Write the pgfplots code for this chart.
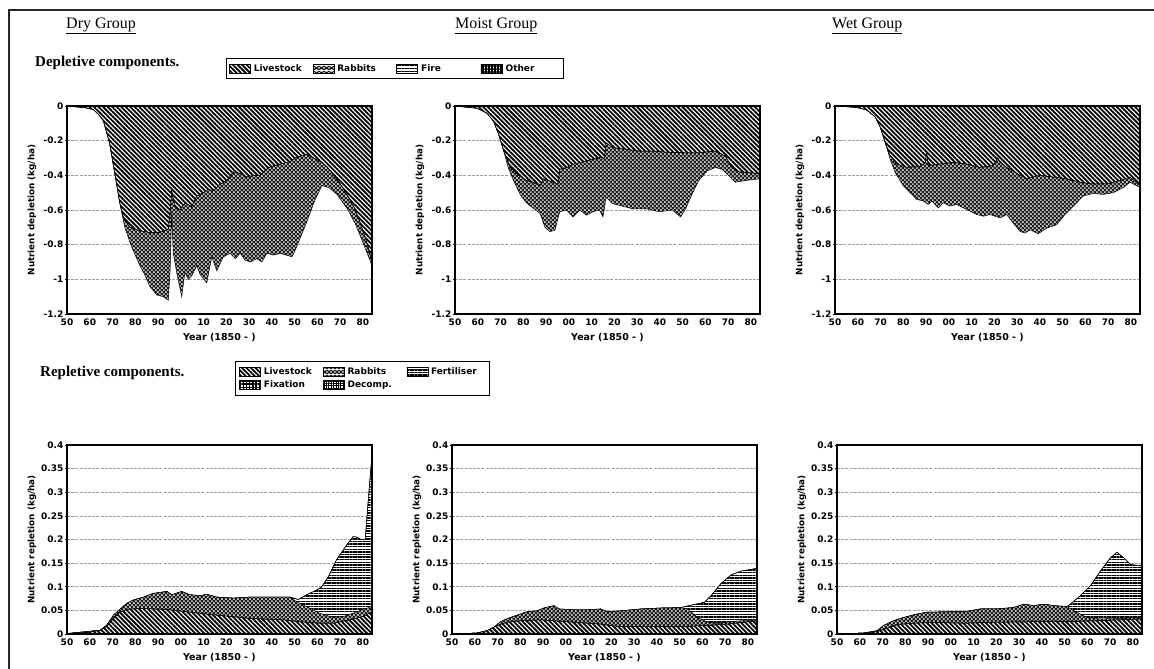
\documentclass[border=0pt]{standalone}
\usepackage{pgfplots}
\pgfplotsset{compat=1.18}
\usepackage{fontspec}
\setmainfont{DejaVu Sans}
\newfontfamily\serif{Liberation Serif}
\usetikzlibrary{patterns,patterns.meta}

\pgfdeclarepatterninherentlycolored{rabbitdots}{\pgfpointorigin}{\pgfpoint{4.4pt}{4.4pt}}{\pgfpoint{4.4pt}{4.4pt}}{%
  \pgfsetfillcolor{black!90}%
  \pgfpathrectangle{\pgfpointorigin}{\pgfpoint{4.4pt}{4.4pt}}%
  \pgfusepath{fill}%
  \pgfsetfillcolor{white}%
  \pgfpathcircle{\pgfpoint{2.2pt}{2.2pt}}{1.05pt}%
  \pgfpathcircle{\pgfpoint{0pt}{0pt}}{1.05pt}%
  \pgfpathcircle{\pgfpoint{4.4pt}{0pt}}{1.05pt}%
  \pgfpathcircle{\pgfpoint{0pt}{4.4pt}}{1.05pt}%
  \pgfpathcircle{\pgfpoint{4.4pt}{4.4pt}}{1.05pt}%
  \pgfusepath{fill}%
}

\pgfplotsset{
  zzswatch/.style={legend image code/.code={\draw[##1] (0pt,-4.5pt) rectangle (21pt,4.5pt);}},
  zzlvs/.style={zzswatch, draw=black, line width=0.5pt, preaction={fill=white}, pattern={Lines[angle=-45,distance=3.2pt,line width=1.8pt]}},
  zzrab/.style={zzswatch, draw=black, line width=0.5pt, pattern=rabbitdots},
  zzfire/.style={zzswatch, draw=black, line width=0.5pt, preaction={fill=white}, pattern={Lines[angle=0,distance=2.6pt,line width=0.8pt]}},
  zzother/.style={zzswatch, draw=black, line width=0.5pt, preaction={fill=white}, pattern={Hatch[angle=0,distance=3pt,line width=1.5pt]}},
  zzfert/.style={zzswatch, draw=black, line width=0.5pt, preaction={fill=white}, pattern={Lines[angle=0,distance=2.6pt,line width=1.4pt]}},
  zzfix/.style={zzswatch, draw=black, line width=0.5pt, preaction={fill=white}, pattern={Hatch[angle=0,distance=3.2pt,line width=1.4pt]}},
  zzdec/.style={zzswatch, draw=black, line width=0.5pt, preaction={fill=white}, pattern={Hatch[angle=0,distance=2.4pt,line width=0.7pt]}},
  zzcommon/.style={
    scale only axis, width=305pt, anchor=south west,
    xmin=1850, xmax=1984,
    xtick={1850,1860,1870,1880,1890,1900,1910,1920,1930,1940,1950,1960,1970,1980},
    xticklabels={50,60,70,80,90,00,10,20,30,40,50,60,70,80},
    ymajorgrids, grid style={gray!75, dash pattern=on 3pt off 1.2pt, line width=0.6pt},
    tick pos=left, tick align=outside, xtick style={draw=none}, ytick style={black, line width=0.6pt},
    major tick length=2pt,
    tick label style={font=\bfseries\fontsize{9}{10}\selectfont, inner sep=1.5pt},
    xticklabel style={yshift=-1pt},
    axis line style={line width=1.1pt},
    after end axis/.code={\draw[line width=1.1pt] (rel axis cs:0,0) rectangle (rel axis cs:1,1);},
    xlabel={Year (1850 - )},
    every axis x label/.style={at={(axis description cs:0.5,0)}, yshift=-24pt, anchor=center, font=\bfseries\fontsize{9.5}{11}\selectfont},
    every axis y label/.style={at={(axis description cs:0,0.5)}, xshift=-35pt, rotate=90, anchor=center, font=\bfseries\fontsize{8.8}{11}\selectfont},
  },
  zztop/.style={zzcommon, height=208pt, ymin=-1.2, ymax=0,
    ytick={-1.2,-1,-0.8,-0.6,-0.4,-0.2,0},
    yticklabels={-1.2,-1,-0.8,-0.6,-0.4,-0.2,0},
    ylabel={Nutrient depletion (kg/ha)}},
  zzbot/.style={zzcommon, height=189pt, ymin=0, ymax=0.4,
    ytick={0,0.05,0.1,0.15,0.2,0.25,0.3,0.35,0.4},
    yticklabels={0,0.05,0.1,0.15,0.2,0.25,0.3,0.35,0.4},
    ylabel={Nutrient repletion (kg/ha)}},
  zzleg/.style={legend style={draw=black, line width=0.8pt, font=\bfseries\fontsize{9}{11}\selectfont,
    inner xsep=3pt, inner ysep=5pt, row sep=3pt,
    nodes={text width=52pt, inner xsep=3pt, inner ysep=1pt},
    /tikz/every even column/.append style={column sep=4pt}}},
}

\begin{document}
\begin{tikzpicture}
\path[use as bounding box] (0pt,0pt) rectangle (1154pt,669pt);
\draw[line width=2pt, black!85] (9pt,0pt) -- (9pt,659pt) -- (1154pt,659pt);

\node[font=\serif\fontsize{16}{18}\selectfont, anchor=west, inner sep=0pt] at (66pt,643pt) {\underline{Dry Group}};
\node[font=\serif\fontsize{16}{18}\selectfont, anchor=west, inner sep=0pt] at (455pt,643pt) {\underline{Moist Group}};
\node[font=\serif\fontsize{16}{18}\selectfont, anchor=west, inner sep=0pt] at (832pt,643pt) {\underline{Wet Group}};
\node[font=\serif\bfseries\fontsize{15}{17}\selectfont, anchor=west, inner sep=0pt] at (35pt,606pt) {Depletive components.};
\node[font=\serif\bfseries\fontsize{15}{17}\selectfont, anchor=west, inner sep=0pt] at (40pt,296pt) {Repletive components.};

% ---------------- Dry depletion
\begin{axis}[zztop, at={(67pt,355pt)}, zzleg,
  legend columns=4,
  legend style={at={(rel axis cs:0.521,1.231)}, anchor=north west}]
\addplot[zzrab, forget plot] coordinates {
(1850,0) (1858,-0.01) (1861.5,-0.02) (1864,-0.05) (1866,-0.086) (1868.8,-0.22) (1871,-0.39) (1873.2,-0.56) (1875.4,-0.70) (1878.3,-0.81) (1882,-0.92) (1884,-0.97) (1886.4,-1.04) (1889.4,-1.09) (1892.3,-1.10) (1894.5,-1.12) (1895.3,-0.95) (1896,-0.62) (1896.7,-0.85) (1898.2,-0.96) (1900.4,-1.10) (1901.8,-0.96) (1903.3,-1.00) (1904.8,-0.98) (1907,-0.92) (1908.4,-0.97) (1911.4,-1.02) (1913.6,-0.87) (1915.8,-0.95) (1918.7,-0.87) (1921.7,-0.85) (1923.9,-0.88) (1926.1,-0.85) (1928.3,-0.89) (1930.5,-0.90) (1933.4,-0.88) (1935.6,-0.90) (1937.8,-0.85) (1940.7,-0.86) (1943.7,-0.85) (1948.8,-0.87) (1950,-0.84) (1955,-0.68) (1959,-0.54) (1962,-0.46) (1965,-0.47) (1968.6,-0.51) (1973,-0.59) (1976.7,-0.68) (1980.4,-0.80) (1984,-0.92)
} \closedcycle;
\addplot[zzlvs, forget plot] coordinates {
(1850,0) (1858,-0.01) (1861.5,-0.02) (1864,-0.05) (1866,-0.086) (1868.8,-0.22) (1871,-0.39) (1873.2,-0.56) (1874.7,-0.64) (1877.6,-0.70) (1882,-0.72) (1886.4,-0.73) (1890.8,-0.73) (1894.5,-0.71) (1895.3,-0.62) (1896,-0.49) (1897.4,-0.58) (1899.6,-0.60) (1901.8,-0.56) (1904.8,-0.58) (1907,-0.52) (1909.9,-0.50) (1912.1,-0.48) (1914.3,-0.49) (1916.5,-0.46) (1918.7,-0.44) (1920.9,-0.42) (1923.1,-0.38) (1926.1,-0.39) (1929,-0.41) (1931.9,-0.40) (1934.9,-0.40) (1937.1,-0.37) (1939.3,-0.35) (1942.2,-0.34) (1945.2,-0.33) (1948.1,-0.32) (1950.3,-0.30) (1952.5,-0.29) (1955.4,-0.28) (1958.4,-0.30) (1961.3,-0.32) (1964.2,-0.35) (1967.2,-0.40) (1970.1,-0.45) (1973,-0.51) (1976,-0.58) (1979,-0.68) (1982,-0.80) (1984,-0.90)
} \closedcycle;
\addlegendimage{zzlvs}\addlegendentry{Livestock}
\addlegendimage{zzrab}\addlegendentry{Rabbits}
\addlegendimage{zzfire}\addlegendentry{Fire}
\addlegendimage{zzother}\addlegendentry{Other}
\end{axis}

% ---------------- Moist depletion
\begin{axis}[zztop, at={(455pt,355pt)}]
\addplot[zzrab] coordinates {
(1850,0) (1859.7,-0.013) (1864.1,-0.042) (1867,-0.089) (1869.2,-0.165) (1871.4,-0.26) (1873.5,-0.36) (1875.7,-0.43) (1878.6,-0.51) (1881.5,-0.56) (1884.4,-0.59) (1887.4,-0.62) (1889.5,-0.70) (1891.7,-0.725) (1893.9,-0.716) (1895,-0.66) (1896,-0.61) (1899,-0.60) (1901.9,-0.64) (1904.8,-0.60) (1907.7,-0.63) (1910.6,-0.61) (1913.5,-0.60) (1915,-0.64) (1916.4,-0.526) (1919.3,-0.564) (1922.2,-0.573) (1928,-0.593) (1933.9,-0.593) (1939.7,-0.61) (1945.5,-0.60) (1949.1,-0.64) (1951.3,-0.593) (1954.2,-0.507) (1957.1,-0.43) (1960.8,-0.374) (1964.4,-0.355) (1967.3,-0.365) (1970.2,-0.40) (1973.1,-0.44) (1977.5,-0.43) (1984,-0.42)
} \closedcycle;
\addplot[zzlvs] coordinates {
(1850,0) (1859.7,-0.013) (1864.1,-0.042) (1867,-0.089) (1869.2,-0.165) (1871.4,-0.26) (1874.3,-0.355) (1877.9,-0.40) (1881.5,-0.43) (1884.4,-0.44) (1887.4,-0.46) (1888.8,-0.42) (1893.2,-0.44) (1895.3,-0.45) (1896,-0.365) (1899,-0.355) (1901.9,-0.336) (1904.8,-0.327) (1907.7,-0.317) (1910.6,-0.308) (1913.5,-0.298) (1915.7,-0.30) (1916.4,-0.213) (1919.3,-0.241) (1925.1,-0.25) (1931,-0.26) (1936.8,-0.26) (1942.6,-0.266) (1949.9,-0.27) (1957.1,-0.27) (1964.4,-0.26) (1968.8,-0.29) (1971.7,-0.355) (1974.6,-0.38) (1984,-0.39)
} \closedcycle;
\end{axis}

% ---------------- Wet depletion
\begin{axis}[zztop, at={(835pt,355pt)}]
\addplot[zzrab] coordinates {
(1850,0) (1859.5,-0.008) (1863.9,-0.023) (1867.6,-0.062) (1869.8,-0.12) (1872,-0.208) (1874.2,-0.305) (1876.4,-0.383) (1880,-0.46) (1883,-0.50) (1885.9,-0.539) (1888.8,-0.548) (1891,-0.568) (1892.5,-0.548) (1895.4,-0.588) (1897.6,-0.558) (1900.5,-0.578) (1903.5,-0.568) (1906.4,-0.588) (1909.3,-0.607) (1912.3,-0.626) (1915.2,-0.636) (1918.1,-0.626) (1922.5,-0.646) (1925.4,-0.626) (1928.3,-0.675) (1931.3,-0.724) (1933.5,-0.733) (1935.7,-0.714) (1939.3,-0.737) (1943,-0.704) (1947.4,-0.685) (1951,-0.626) (1954.7,-0.578) (1959.1,-0.519) (1963.5,-0.504) (1967.9,-0.51) (1972.3,-0.50) (1976.7,-0.47) (1979.6,-0.44) (1984,-0.47)
} \closedcycle;
\addplot[zzlvs] coordinates {
(1850,0) (1859.5,-0.008) (1863.9,-0.023) (1867.6,-0.062) (1869.8,-0.12) (1872,-0.208) (1874.2,-0.286) (1877.1,-0.335) (1881.5,-0.354) (1887.3,-0.348) (1889.5,-0.33) (1890.3,-0.27) (1891,-0.345) (1896.1,-0.335) (1902,-0.325) (1907.8,-0.335) (1913.7,-0.354) (1919.5,-0.344) (1921.5,-0.30) (1922.5,-0.325) (1925.4,-0.354) (1931.3,-0.40) (1934.2,-0.42) (1940,-0.40) (1945.9,-0.41) (1951.8,-0.42) (1957.6,-0.44) (1963.5,-0.45) (1969.3,-0.45) (1975.2,-0.43) (1979.6,-0.41) (1984,-0.46)
} \closedcycle;
\end{axis}

% ---------------- Dry repletion
\begin{axis}[zzbot, at={(67pt,35pt)}, zzleg,
  legend columns=3,
  legend style={at={(rel axis cs:0.551,1.444)}, anchor=north west}]
\addplot[zzfert, forget plot] coordinates {
(1850,0.001) (1864.6,0.008) (1867.5,0.019) (1870.5,0.04) (1873.4,0.053) (1876.3,0.065) (1879.2,0.072) (1883.6,0.078) (1888,0.086) (1893.9,0.090) (1896,0.083) (1900.4,0.090) (1904,0.083) (1908.5,0.081) (1911.4,0.084) (1915.8,0.078) (1923.1,0.076) (1930.4,0.078) (1937.7,0.078) (1945,0.078) (1948,0.078) (1951.6,0.073) (1955.3,0.083) (1959.7,0.093) (1961.9,0.10) (1964.8,0.121) (1968.4,0.157) (1972.8,0.188) (1975.7,0.206) (1977.5,0.205) (1978.7,0.201) (1981,0.199) (1982.3,0.28) (1984,0.38)
} \closedcycle;
\addplot[zzrab, forget plot] coordinates {
(1850,0.001) (1864.6,0.008) (1867.5,0.019) (1870.5,0.04) (1873.4,0.053) (1876.3,0.065) (1879.2,0.072) (1883.6,0.078) (1888,0.086) (1893.9,0.090) (1896,0.083) (1900.4,0.090) (1904,0.083) (1908.5,0.081) (1911.4,0.084) (1915.8,0.078) (1923.1,0.076) (1930.4,0.078) (1937.7,0.078) (1945,0.078) (1948,0.078) (1950.9,0.068) (1955.3,0.058) (1961,0.044) (1967,0.035) (1971.3,0.037) (1975.7,0.044) (1980,0.052) (1984,0.058)
} \closedcycle;
\addplot[zzlvs, forget plot] coordinates {
(1850,0.001) (1858.8,0.003) (1864.6,0.008) (1867.5,0.016) (1870.5,0.033) (1873.4,0.047) (1876.3,0.052) (1882,0.054) (1893.9,0.052) (1902.6,0.047) (1915.8,0.040) (1930.4,0.033) (1945,0.030) (1952.3,0.026) (1961,0.023) (1967,0.023) (1974.3,0.030) (1980,0.037) (1984,0.047)
} \closedcycle;
\addlegendimage{zzlvs}\addlegendentry{Livestock}
\addlegendimage{zzrab}\addlegendentry{Rabbits}
\addlegendimage{zzfert}\addlegendentry{Fertiliser}
\addlegendimage{zzfix}\addlegendentry{Fixation}
\addlegendimage{zzdec}\addlegendentry{Decomp.}
\end{axis}

% ---------------- Moist repletion
\begin{axis}[zzbot, at={(452pt,35pt)}]
\addplot[zzfert] coordinates {
(1850,0) (1861,0.002) (1865.4,0.007) (1868.4,0.014) (1871.3,0.026) (1875.7,0.035) (1880.1,0.042) (1883,0.047) (1887.4,0.049) (1890.4,0.055) (1894.8,0.060) (1897,0.053) (1903.6,0.051) (1909.5,0.051) (1915.3,0.053) (1918.3,0.047) (1924.1,0.049) (1933,0.053) (1941.8,0.055) (1950.6,0.056) (1955,0.061) (1960.9,0.067) (1963.8,0.081) (1968.2,0.107) (1972.6,0.125) (1977,0.133) (1984,0.139)
} \closedcycle;
\addplot[zzrab] coordinates {
(1850,0) (1861,0.002) (1865.4,0.007) (1868.4,0.014) (1871.3,0.026) (1875.7,0.035) (1880.1,0.042) (1883,0.047) (1887.4,0.049) (1890.4,0.055) (1894.8,0.060) (1897,0.053) (1903.6,0.051) (1909.5,0.051) (1915.3,0.053) (1918.3,0.047) (1924.1,0.049) (1933,0.053) (1941.8,0.055) (1950.6,0.056) (1953.5,0.053) (1957.9,0.035) (1962.3,0.025) (1966.7,0.022) (1971.1,0.025) (1977,0.028) (1984,0.030)
} \closedcycle;
\addplot[zzlvs] coordinates {
(1850,0) (1861,0.002) (1865.4,0.007) (1869.8,0.018) (1874.2,0.025) (1880.1,0.028) (1888.9,0.030) (1900.7,0.026) (1915.3,0.021) (1922.7,0.016) (1937.4,0.016) (1952,0.016) (1962.3,0.018) (1971.1,0.021) (1984,0.028)
} \closedcycle;
\end{axis}

% ---------------- Wet repletion
\begin{axis}[zzbot, at={(837pt,35pt)}]
\addplot[zzfert] coordinates {
(1850,0) (1861.7,0.002) (1867.6,0.007) (1870.5,0.018) (1874.9,0.028) (1879.3,0.035) (1885.1,0.042) (1889.5,0.046) (1898.3,0.047) (1907.1,0.048) (1913,0.053) (1920.3,0.053) (1927.6,0.056) (1932,0.063) (1936.4,0.060) (1940.8,0.063) (1945.2,0.060) (1951,0.058) (1952.5,0.063) (1956.9,0.081) (1961.3,0.102) (1965.7,0.133) (1970.1,0.161) (1973,0.173) (1976,0.161) (1979,0.147) (1984,0.144)
} \closedcycle;
\addplot[zzrab] coordinates {
(1850,0) (1861.7,0.002) (1867.6,0.007) (1870.5,0.018) (1874.9,0.028) (1879.3,0.035) (1885.1,0.042) (1889.5,0.046) (1898.3,0.047) (1907.1,0.048) (1913,0.053) (1920.3,0.053) (1927.6,0.056) (1932,0.063) (1936.4,0.060) (1940.8,0.063) (1945.2,0.060) (1951,0.058) (1955.4,0.046) (1959.8,0.035) (1965.7,0.032) (1974.5,0.033) (1984,0.035)
} \closedcycle;
\addplot[zzlvs] coordinates {
(1850,0) (1861.7,0.002) (1867.6,0.005) (1872,0.012) (1876.4,0.020) (1883.7,0.023) (1891,0.025) (1905.6,0.023) (1920.3,0.025) (1934.9,0.026) (1949.6,0.026) (1964.2,0.028) (1984,0.032)
} \closedcycle;
\end{axis}
\end{tikzpicture}
\end{document}
